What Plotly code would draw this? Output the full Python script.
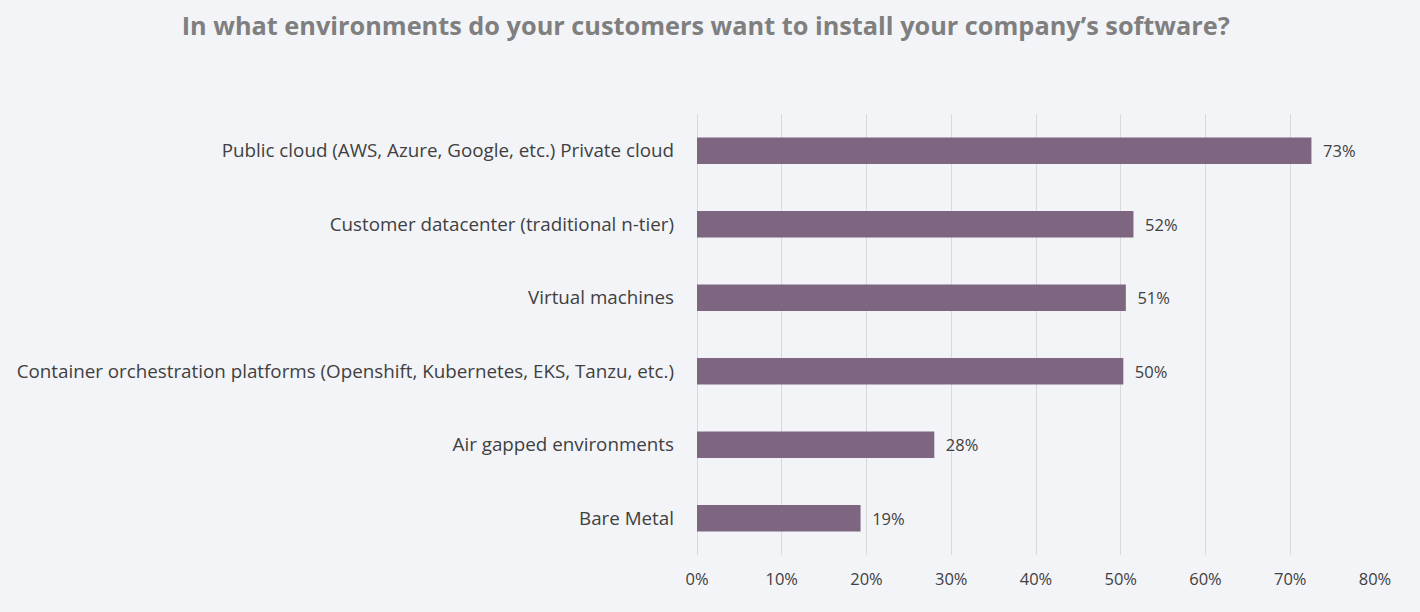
import plotly.graph_objects as go

categories = [
    "Public cloud (AWS, Azure, Google, etc.) Private cloud",
    "Customer datacenter (traditional n-tier)",
    "Virtual machines",
    "Container orchestration platforms (Openshift, Kubernetes, EKS, Tanzu, etc.)",
    "Air gapped environments",
    "Bare Metal",
]
values = [72.5, 51.5, 50.6, 50.3, 28.0, 19.3]
labels = ["73%", "52%", "51%", "50%", "28%", "19%"]
tick_vals = [0, 10, 20, 30, 40, 50, 60, 70, 80]
tick_text = ["0%", "10%", "20%", "30%", "40%", "50%", "60%", "70%", "80%"]

font_family = "'Open Sans', Lato, sans-serif"

fig = go.Figure(go.Bar(
    x=values,
    y=categories,
    orientation="h",
    marker=dict(color="#7e6680", line=dict(width=0)),
    width=0.36,
    text=["  " + t for t in labels],
    textposition="outside",
    textfont=dict(size=16.5, color="#404040", family=font_family),
    cliponaxis=False,
    hoverinfo="skip",
))

fig.update_layout(
    width=1420, height=612,
    paper_bgcolor="#f3f4f8",
    plot_bgcolor="#f3f4f8",
    margin=dict(l=697, r=45, t=114, b=57),
    title=dict(
        text="<b>In what environments do your customers want to install your company’s software?</b>",
        x=0.497, xanchor="center", y=0.957, yanchor="middle",
        font=dict(size=25.3, color="#7f7f7f", family=font_family),
    ),
    xaxis=dict(
        range=[0, 80],
        tickvals=tick_vals, ticktext=tick_text,
        showgrid=True, gridcolor="#d9d9d9", gridwidth=1,
        zeroline=True, zerolinecolor="#d9d9d9", zerolinewidth=1,
        showline=False,
        tickfont=dict(size=16.5, color="#404040", family=font_family),
        ticks="", ticklabelstandoff=12,
    ),
    yaxis=dict(
        categoryorder="array", categoryarray=categories[::-1],
        showgrid=False, zeroline=False, showline=False,
        tickfont=dict(size=18.8, color="#404040", family=font_family),
        ticks="", ticklabelstandoff=22,
    ),
    showlegend=False,
)

fig.write_html("out.html")
